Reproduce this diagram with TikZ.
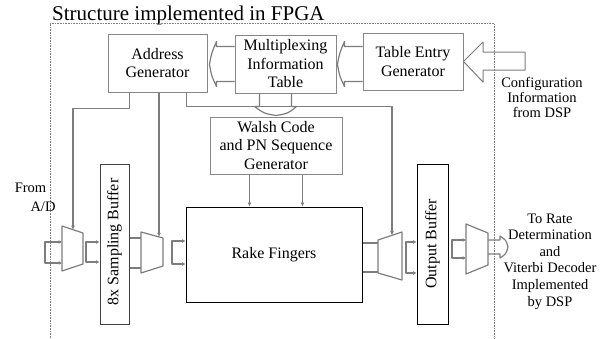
\documentclass[tikz,border=0pt]{standalone}
\usepackage{fontspec}
\setmainfont{Liberation Serif}
\usetikzlibrary{arrows.meta,calc}
\definecolor{boxgray}{RGB}{135,135,135}
\definecolor{wiregray}{RGB}{125,125,125}
\begin{document}
\begin{tikzpicture}[x=1pt,y=-1pt,
  box/.style={draw=boxgray, line width=1pt, fill=white, inner sep=0pt, align=center,
              font=\rmfamily\fontsize{16}{18.5}\selectfont},
  darkbox/.style={box, draw=black},
  wire/.style={draw=wiregray, line width=1.2pt, line join=round},
  arr/.style={wire, -{Latex[length=4pt,width=4pt]}},
  arrbus/.style={wire, {Latex[length=3.5pt,width=4pt]}-{Latex[length=3.5pt,width=4pt]}},
  lbl/.style={align=center, inner sep=0pt, font=\rmfamily\fontsize{14.5}{15}\selectfont},
  rlbl/.style={align=center, inner sep=0pt, font=\rmfamily\fontsize{14.5}{16.6}\selectfont},
  vtext/.style={rotate=90, inner sep=0pt, font=\rmfamily\fontsize{16}{18}\selectfont}]
\useasboundingbox (0,0) rectangle (606,338);

% title and frame
\node[anchor=base west, inner sep=0pt, font=\rmfamily\fontsize{21}{24}\selectfont] (title) at (52,20) {Structure implemented in FPGA};
\draw[densely dotted, line width=0.6pt, gray] (50,338) -- (50,23) -- (494,23) -- (494,338);

% boxes
\node[box, minimum width=99pt, minimum height=58pt] (addr) at (157.5,63) {Address\\Generator};
\node[box, minimum width=101pt, minimum height=58pt] (mux) at (285.5,64) {Multiplexing\\Information\\Table};
\node[box, minimum width=100pt, minimum height=57pt] (tab) at (413,61.5) {Table Entry\\Generator};
\node[box, minimum width=132pt, minimum height=57pt] (walsh) at (276,145.5) {Walsh Code\\and PN Sequence\\Generator};
\node[darkbox, minimum width=176pt, minimum height=95pt] (rake) at (274,254.5) {Rake Fingers};
\node[box, draw=black!75, minimum width=29pt, minimum height=160pt] (sbuf) at (114.5,244) {};
\node[vtext] (sbuft) at (114.5,242) {8x Sampling Buffer};
\node[darkbox, minimum width=31pt, minimum height=160pt] (obuf) at (432.5,244) {};
\node[vtext] (obuft) at (432.5,244) {Output Buffer};

% outside labels
\node[lbl, anchor=center] (froma) at (30.5,188) {From};
\node[lbl, anchor=center] (fromb) at (43,207) {A/D};
\node[lbl] (cfg) at (542,97) {Configuration\\Information\\from DSP};
\node[rlbl] (torate) at (550,261.5) {To Rate\\Determination\\and\\Viterbi Decoder\\Implemented\\by DSP};

% multiplexer shapes
\draw[wire] (62,226) -- (83,233) -- (83,264) -- (62,271) -- cycle;
\coordinate (m1top) at (73,229.7);
\draw[wire] (141,232) -- (163,238) -- (163,266) -- (141,273) -- cycle;
\coordinate (m2top) at (159,236.9);
\draw[wire] (378,240) -- (402,232) -- (402,280) -- (378,273) -- cycle;
\coordinate (m3top) at (392,235.3);
\draw[wire] (466,224) -- (488,233) -- (488,265) -- (466,274) -- cycle;

% control lines from the address generator
\draw[arr] ($(addr.south west)+(22,0)$) -- ++(0,16) -| (m1top);
\draw[arr] (addr.south -| m2top) -- (m2top);
\draw[arr] ($(addr.south east)+(-21,0)$) -- ++(0,14) -| (m3top);

% walsh code to rake fingers
\draw[arr] ($(walsh.south west)+(40,0)$) -- ($(rake.north west)+(64,0)$);
\draw[arr] ($(walsh.south west)+(93,0)$) -- ($(rake.north west)+(117,0)$);

% block arrow: multiplexing table -> walsh
\draw[wire] ($(mux.south west)+(25,0)$) -- ++(0,13) -- ++(-5,0)
  .. controls ($(walsh.north)+(-12,-3)$) .. ($(walsh.north)+(0,-1)$)
  .. controls ($(walsh.north)+(12,-3)$) .. ($(mux.south west)+(62,13)$) -- ++(-5,0) -- ++(0,-13);

% block arrow: multiplexing table -> address generator
\draw[wire] ($(mux.north west)+(0,12)$) -- ++(-18,0) -- ++(0,-5)
  .. controls ($(addr.east)+(4,-10)$) .. ($(addr.east)+(2,1.5)$)
  .. controls ($(addr.east)+(4,13)$) .. ($(mux.north west)+(-18,52)$) -- ++(0,-5) -- ++(18,0);

% block arrow: table entry -> multiplexing table
\draw[wire] ($(tab.north west)+(0,14)$) -- ++(-18,0) -- ++(0,-5)
  .. controls ($(mux.east)+(3,-11)$) .. ($(mux.east)+(1,0.5)$)
  .. controls ($(mux.east)+(3,12)$) .. ($(tab.north west)+(-18,54)$) -- ++(0,-5) -- ++(18,0);

% block arrow: configuration information -> table entry
\draw[wire, line width=1pt] (525,52) -- (483,52) -- (483,42) -- (tab.east) -- (483,82) -- (483,70) -- (525,70) -- cycle;

% data path
\draw[arrbus] (62,242) -- (45,242) -- (45,263) -- (62,263);
\draw[arrbus] (sbuf.west |- 0,242) -- (86,242) -- (86,262) -- (sbuf.west |- 0,262);
\draw[wire] (sbuf.east |- 0,238) -- (141,238);
\draw[wire] (sbuf.east |- 0,268) -- (141,268);
\draw[arrbus] (rake.west |- 0,241) -- (172,241) -- (172,264) -- (rake.west |- 0,264);
\draw[wire] (rake.east |- 0,243) -- (378,243);
\draw[wire] (rake.east |- 0,272) -- (378,272);
\draw[arrbus] (obuf.west |- 0,242) -- (406,242) -- (406,273) -- (obuf.west |- 0,273);
\draw[arrbus] (466,240) -- (452,240) -- (452,258) -- (466,258);
\draw[wire] (488,240) -- (500,240) -- (500,236) .. controls (506,240) .. (508,247)
  .. controls (506,254) .. (500,258) -- (500,254) -- (488,254);
\end{tikzpicture}
\end{document}
